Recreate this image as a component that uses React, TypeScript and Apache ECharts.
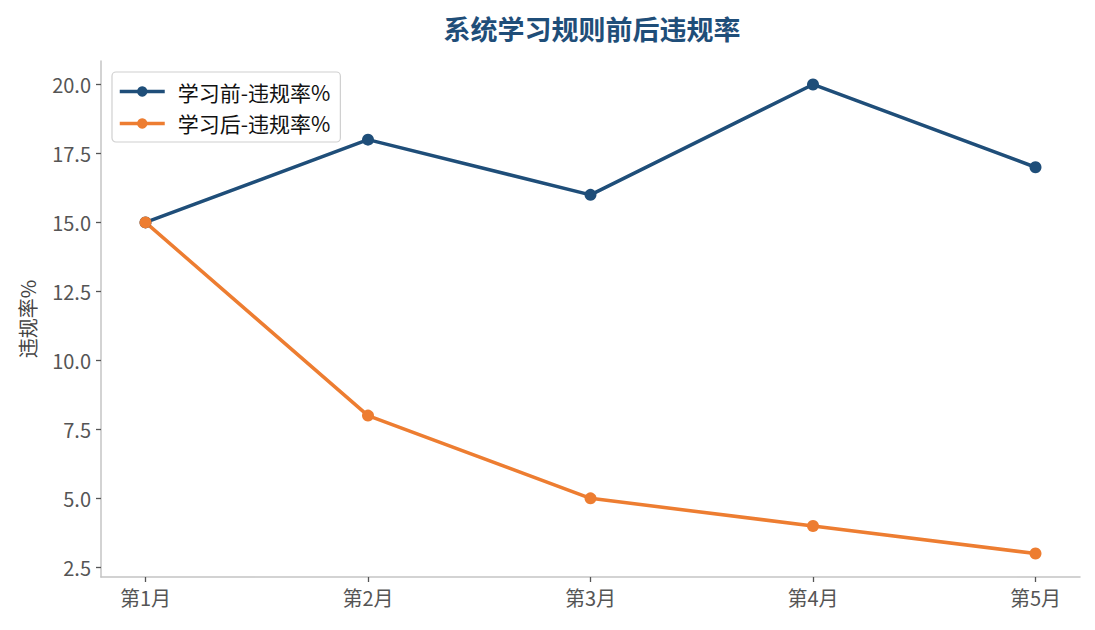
import React, { useEffect, useRef } from "react";
import * as echarts from "echarts";

const categories = ["第1月", "第2月", "第3月", "第4月", "第5月"];
const beforeValues = [15, 18, 16, 20, 17];
const afterValues = [15, 8, 5, 4, 3];
const yTicks = [2.5, 5, 7.5, 10, 12.5, 15, 17.5, 20];
const seriesNames = ["学习前-违规率%", "学习后-违规率%"];
const title = "系统学习规则前后违规率";
const yName = "违规率%";

const FONT = "'Noto Sans CJK SC', 'Noto Sans', sans-serif";

export default function App() {
  const ref = useRef<HTMLDivElement>(null);
  useEffect(() => {
    if (!ref.current) return;
    const chart = echarts.init(ref.current, null, { renderer: "svg" });
    const xIdx = categories.map((_, i) => i);
    chart.setOption({
      animation: false,
      backgroundColor: "#ffffff",
      textStyle: { fontFamily: FONT },
      title: {
        text: title,
        left: 587,
        textAlign: "center",
        top: 10,
        textStyle: { fontSize: 27, fontWeight: "bold", color: "#1f4e79", fontFamily: FONT },
      },
      legend: {
        left: 112,
        top: 72,
        orient: "vertical",
        itemWidth: 45,
        itemHeight: 13,
        itemGap: 11,
        padding: [9, 10, 8, 6],
        borderColor: "#d0d0d0",
        borderWidth: 1.2,
        borderRadius: 4,
        backgroundColor: "#ffffff",
        lineStyle: { width: 3.5 },
        textStyle: { fontSize: 21, color: "#111", fontFamily: FONT, padding: [0, 0, 0, 8] },
        data: seriesNames,
      },
      grid: { left: 101, right: 15, top: 61, bottom: 53, containLabel: false },
      xAxis: {
        type: "value",
        min: -0.2,
        max: 4.2,
        splitLine: { show: false },
        axisLine: { show: true, onZero: false, lineStyle: { color: "#c4c4c4", width: 1.5 } },
        axisTick: { show: true, length: 5, customValues: xIdx, lineStyle: { color: "#555", width: 1.3 } },
        axisLabel: {
          customValues: xIdx,
          formatter: (v: number) => categories[Math.round(v)] ?? "",
          fontSize: 20,
          color: "#555",
          margin: 10,
          fontFamily: FONT,
        },
      },
      yAxis: {
        type: "value",
        min: 2.15,
        max: 20.85,
        name: yName,
        nameLocation: "middle",
        nameGap: 64,
        nameTextStyle: { fontSize: 20, color: "#444", fontFamily: FONT },
        splitLine: { show: false },
        axisLine: { show: true, onZero: false, lineStyle: { color: "#c4c4c4", width: 1.5 } },
        axisTick: { show: true, length: 5, customValues: yTicks, lineStyle: { color: "#555", width: 1.3 } },
        axisLabel: {
          customValues: yTicks,
          formatter: (v: number) => v.toFixed(1),
          fontSize: 20,
          color: "#555",
          margin: 10,
          fontFamily: FONT,
        },
      },
      series: [
        {
          name: seriesNames[0],
          type: "line",
          data: beforeValues.map((v, i) => [i, v]),
          symbol: "circle",
          symbolSize: 12,
          lineStyle: { width: 3.5, color: "#1f4e79" },
          itemStyle: { color: "#1f4e79" },
        },
        {
          name: seriesNames[1],
          type: "line",
          data: afterValues.map((v, i) => [i, v]),
          symbol: "circle",
          symbolSize: 12,
          lineStyle: { width: 3.5, color: "#ed7d31" },
          itemStyle: { color: "#ed7d31" },
        },
      ],
    });
    return () => chart.dispose();
  }, []);
  return <div ref={ref} style={{ width: 1095, height: 630, position: "absolute", left: 0, top: 0 }} />;
}
